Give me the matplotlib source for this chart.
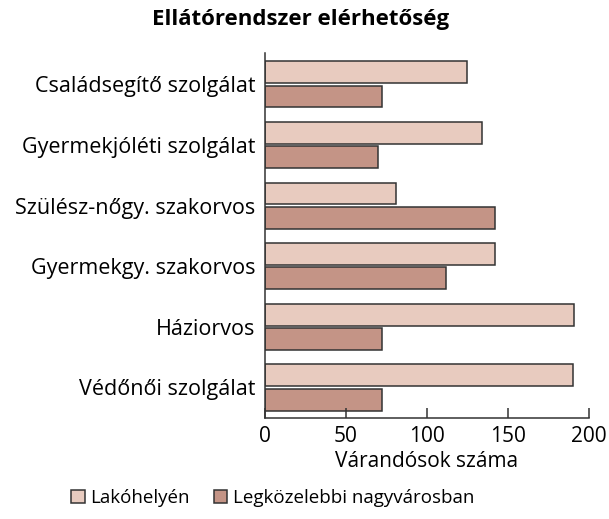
import numpy as np
import matplotlib.pyplot as plt
from matplotlib.patches import Patch

plt.rcParams['font.family'] = ['Open Sans', 'DejaVu Sans']

# Data
categories = ["Családsegítő szolgálat", "Gyermekjóléti szolgálat",
              "Szülész-nőgy. szakorvos", "Gyermekgy. szakorvos",
              "Háziorvos", "Védőnői szolgálat"]
lakohelyen = [125, 134, 81, 142, 191, 190]
nagyvarosban = [72, 70, 142, 112, 72, 72]
series_names = ["Lakóhelyén", "Legközelebbi nagyvárosban"]
colors = ['#E8CBBF', '#C49486']
edge = '#333333'

fig = plt.figure(figsize=(6.09, 5.19), dpi=100)
ax = fig.add_axes([0.435, 0.195, 0.532, 0.703])

y = np.arange(len(categories))
h = 0.36
ax.barh(y - 0.2, lakohelyen, height=h, color=colors[0], edgecolor=edge, linewidth=1.1)
ax.barh(y + 0.2, nagyvarosban, height=h, color=colors[1], edgecolor=edge, linewidth=1.1)

ax.set_ylim(len(categories) - 0.5, -0.52)
ax.set_xlim(0, 200)
ax.set_yticks(y)
ax.set_yticklabels(categories, fontsize=15.5)
ax.set_xticks([0, 50, 100, 150, 200])
ax.tick_params(axis='x', direction='in', length=7, width=1.1, labelsize=15, pad=6, color=edge)
ax.tick_params(axis='y', length=0, pad=7)
for s in ['top', 'right']:
    ax.spines[s].set_visible(False)
for s in ['left', 'bottom']:
    ax.spines[s].set_linewidth(1.1)
    ax.spines[s].set_color(edge)
ax.set_xlabel("Várandósok száma", fontsize=15, labelpad=3)

fig.text(0.493, 0.962, "Ellátórendszer elérhetőség", ha='center', va='center',
         fontsize=16, fontweight='bold')

handles = [Patch(facecolor=colors[i], edgecolor=edge, linewidth=1.1, label=series_names[i])
           for i in range(2)]
fig.legend(handles=handles, loc='center', bbox_to_anchor=(0.448, 0.04), ncol=2,
           frameon=False, fontsize=13.5, handlelength=0.7, handleheight=0.7,
           handletextpad=0.3, columnspacing=1.3)

plt.savefig("out.png", dpi=100)
